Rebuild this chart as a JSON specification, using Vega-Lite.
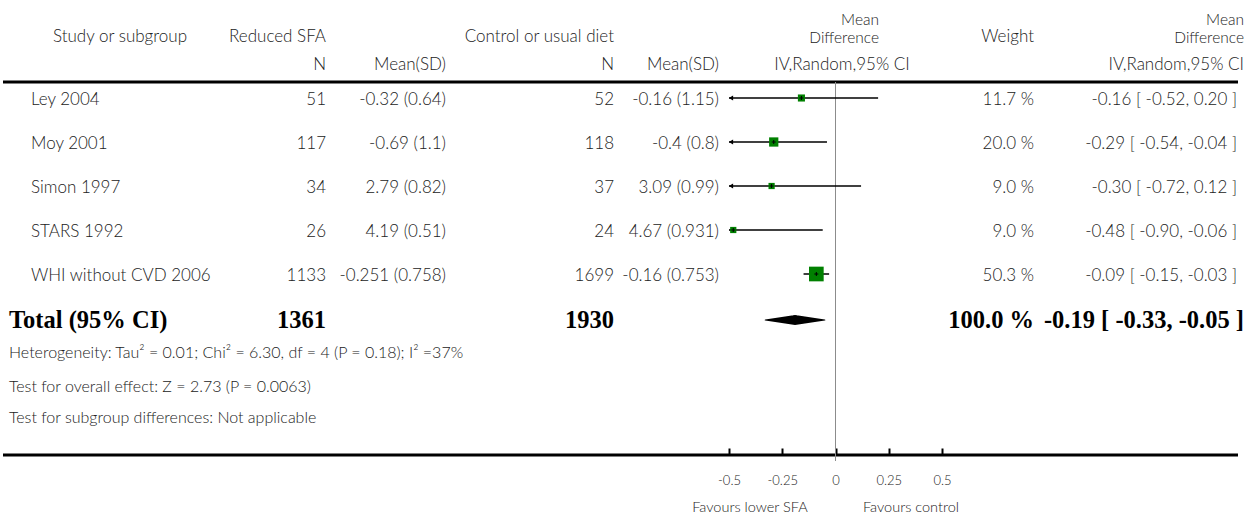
{
"$schema":"https://vega.github.io/schema/vega-lite/v6.json",
"width":1235,"height":455,
"autosize":"none",
"padding":{"left":3,"top":0,"right":22,"bottom":66},
"background":"white",
"config":{"view":{"stroke":null},"text":{"font":"Lato","fontSize":17,"fontWeight":300,"color":"#222"},
"axisX":{"domain":false,"grid":false,"ticks":true,"tickSize":-7,"tickWidth":2,"tickColor":"black","labelFont":"Lato","labelFontSize":13,"labelFontWeight":300,"labelColor":"#222","labelPadding":26,"labelFlush":false,"labelOverlap":false}},
"datasets":{
"studies":[
{"row":4,"study":"Ley 2004","n1":"51","m1":"-0.32 (0.64)","n2":"52","m2":"-0.16 (1.15)","w":11.7,"wt":"11.7 %","ci":"-0.16 [ -0.52, 0.20 ]","md":-0.16,"lo":-0.52,"hi":0.20},
{"row":5,"study":"Moy 2001","n1":"117","m1":"-0.69 (1.1)","n2":"118","m2":"-0.4 (0.8)","w":20.0,"wt":"20.0 %","ci":"-0.29 [ -0.54, -0.04 ]","md":-0.29,"lo":-0.54,"hi":-0.04},
{"row":6,"study":"Simon 1997","n1":"34","m1":"2.79 (0.82)","n2":"37","m2":"3.09 (0.99)","w":9.0,"wt":"9.0 %","ci":"-0.30 [ -0.72, 0.12 ]","md":-0.30,"lo":-0.72,"hi":0.12},
{"row":7,"study":"STARS 1992","n1":"26","m1":"4.19 (0.51)","n2":"24","m2":"4.67 (0.931)","w":9.0,"wt":"9.0 %","ci":"-0.48 [ -0.90, -0.06 ]","md":-0.48,"lo":-0.90,"hi":-0.06},
{"row":8,"study":"WHI without CVD 2006","n1":"1133","m1":"-0.251 (0.758)","n2":"1699","m2":"-0.16 (0.753)","w":50.3,"wt":"50.3 %","ci":"-0.09 [ -0.15, -0.03 ]","md":-0.09,"lo":-0.15,"hi":-0.03}
],
"total":[{"row":9,"label":"Total (95% CI)","n1":"1361","n2":"1930","wt":"100.0 %","ci":"-0.19 [ -0.33, -0.05 ]"}],
"diamond":[{"row":9,"x":-0.33,"h":0},{"row":9,"x":-0.19,"h":1},{"row":9,"x":-0.05,"h":0}],
"hlines":[{"row":3},{"row":13}],
"zero":[{"v":0,"row":3,"row2":14}],
"foot":[
{"row":10,"t":"Heterogeneity: Tau² = 0.01; Chi² = 6.30, df = 4 (P = 0.18); I² =37%"},
{"row":11,"t":"Test for overall effect: Z = 2.73 (P = 0.0063)"},
{"row":12,"t":"Test for subgroup differences: Not applicable"}
],
"hdrR":[
{"t":"Reduced SFA","row":1,"c":3},
{"t":"Control or usual diet","row":1,"c":5},
{"t":"Weight","row":1,"c":12},
{"t":"N","row":2,"c":3},
{"t":"Mean(SD)","row":2,"c":4},
{"t":"N","row":2,"c":6},
{"t":"Mean(SD)","row":2,"c":7},
{"t":"IV,Random,95% CI","row":2,"c":14}
],
"hdrMD":[
{"t":"Mean\nDifference","row":1,"c":10},
{"t":"Mean\nDifference","row":1,"c":14}
],
"hdrC":[
{"t":"Study or subgroup","row":1,"c":2},
{"t":"IV,Random,95% CI","row":2,"c":9}
],
"fav":[
{"t":"Favours lower SFA","row":15,"c":8},
{"t":"Favours control","row":15,"c":11}
]
},
"encoding":{"y":{"field":"row","type":"quantitative","scale":{"domain":[0,1,2,3,4,5,6,7,8,9,10,11,12,13,14,15],"range":[19,37,65,82,98,142,186,230,274,320,353,387,418,455,461,508],"zero":false,"nice":false},"axis":null}},
"resolve":{"scale":{"x":"independent"}},
"layer":[
{"layer":[
{"data":{"name":"hlines"},"mark":{"type":"rule","strokeWidth":3,"color":"black"},"encoding":{"y":{"field":"row","type":"quantitative"}}},
{"data":{"name":"hdrR"},"mark":{"type":"text","align":"right"},"encoding":{"x":{"field":"c","type":"quantitative","scale":{"domain":[0,1,2,3,4,5,6,7,8,9,10,11,12,13,14],"range":[6,28,117,323,443,611,611,716,747,839,876,908,1031,1234,1241],"zero":false,"nice":false},"axis":null},"text":{"field":"t"}}},
{"data":{"name":"hdrMD"},"mark":{"type":"text","align":"right","baseline":"middle","lineBreak":"\n","lineHeight":17.5,"fontSize":15.5,"dy":-17},"encoding":{"x":{"field":"c","type":"quantitative","scale":{"domain":[0,1,2,3,4,5,6,7,8,9,10,11,12,13,14],"range":[6,28,117,323,443,611,611,716,747,839,876,908,1031,1234,1241],"zero":false,"nice":false},"axis":null},"text":{"field":"t"}}},
{"data":{"name":"hdrC"},"mark":{"type":"text","align":"center"},"encoding":{"x":{"field":"c","type":"quantitative","scale":{"domain":[0,1,2,3,4,5,6,7,8,9,10,11,12,13,14],"range":[6,28,117,323,443,611,611,716,747,839,876,908,1031,1234,1241],"zero":false,"nice":false},"axis":null},"text":{"field":"t"}}},
{"data":{"name":"fav"},"mark":{"type":"text","align":"center","fontSize":14.5},"encoding":{"x":{"field":"c","type":"quantitative","scale":{"domain":[0,1,2,3,4,5,6,7,8,9,10,11,12,13,14],"range":[6,28,117,323,443,611,611,716,747,839,876,908,1031,1234,1241],"zero":false,"nice":false},"axis":null},"text":{"field":"t"}}},
{"data":{"name":"studies"},"mark":{"type":"text","align":"left","dy":2},"encoding":{"x":{"datum":1,"type":"quantitative","scale":{"domain":[0,1,2,3,4,5,6,7,8,9,10,11,12,13,14],"range":[6,28,117,323,443,611,611,716,747,839,876,908,1031,1234,1241],"zero":false,"nice":false},"axis":null},"text":{"field":"study"}}},
{"data":{"name":"studies"},"mark":{"type":"text","align":"right","dy":2},"encoding":{"x":{"datum":3,"type":"quantitative","scale":{"domain":[0,1,2,3,4,5,6,7,8,9,10,11,12,13,14],"range":[6,28,117,323,443,611,611,716,747,839,876,908,1031,1234,1241],"zero":false,"nice":false},"axis":null},"text":{"field":"n1"}}},
{"data":{"name":"studies"},"mark":{"type":"text","align":"right","dy":2},"encoding":{"x":{"datum":4,"type":"quantitative","scale":{"domain":[0,1,2,3,4,5,6,7,8,9,10,11,12,13,14],"range":[6,28,117,323,443,611,611,716,747,839,876,908,1031,1234,1241],"zero":false,"nice":false},"axis":null},"text":{"field":"m1"}}},
{"data":{"name":"studies"},"mark":{"type":"text","align":"right","dy":2},"encoding":{"x":{"datum":6,"type":"quantitative","scale":{"domain":[0,1,2,3,4,5,6,7,8,9,10,11,12,13,14],"range":[6,28,117,323,443,611,611,716,747,839,876,908,1031,1234,1241],"zero":false,"nice":false},"axis":null},"text":{"field":"n2"}}},
{"data":{"name":"studies"},"mark":{"type":"text","align":"right","dy":2},"encoding":{"x":{"datum":7,"type":"quantitative","scale":{"domain":[0,1,2,3,4,5,6,7,8,9,10,11,12,13,14],"range":[6,28,117,323,443,611,611,716,747,839,876,908,1031,1234,1241],"zero":false,"nice":false},"axis":null},"text":{"field":"m2"}}},
{"data":{"name":"studies"},"mark":{"type":"text","align":"right","dy":2},"encoding":{"x":{"datum":12,"type":"quantitative","scale":{"domain":[0,1,2,3,4,5,6,7,8,9,10,11,12,13,14],"range":[6,28,117,323,443,611,611,716,747,839,876,908,1031,1234,1241],"zero":false,"nice":false},"axis":null},"text":{"field":"wt"}}},
{"data":{"name":"studies"},"mark":{"type":"text","align":"right","dy":2},"encoding":{"x":{"datum":13,"type":"quantitative","scale":{"domain":[0,1,2,3,4,5,6,7,8,9,10,11,12,13,14],"range":[6,28,117,323,443,611,611,716,747,839,876,908,1031,1234,1241],"zero":false,"nice":false},"axis":null},"text":{"field":"ci"}}},
{"data":{"name":"total"},"mark":{"type":"text","align":"left","dy":1,"font":"Liberation Serif","fontWeight":"bold","fontSize":24.5,"color":"black"},"encoding":{"x":{"datum":0,"type":"quantitative","scale":{"domain":[0,1,2,3,4,5,6,7,8,9,10,11,12,13,14],"range":[6,28,117,323,443,611,611,716,747,839,876,908,1031,1234,1241],"zero":false,"nice":false},"axis":null},"text":{"field":"label"}}},
{"data":{"name":"total"},"mark":{"type":"text","align":"right","dy":1,"font":"Liberation Serif","fontWeight":"bold","fontSize":24.5,"color":"black"},"encoding":{"x":{"datum":3,"type":"quantitative","scale":{"domain":[0,1,2,3,4,5,6,7,8,9,10,11,12,13,14],"range":[6,28,117,323,443,611,611,716,747,839,876,908,1031,1234,1241],"zero":false,"nice":false},"axis":null},"text":{"field":"n1"}}},
{"data":{"name":"total"},"mark":{"type":"text","align":"right","dy":1,"font":"Liberation Serif","fontWeight":"bold","fontSize":24.5,"color":"black"},"encoding":{"x":{"datum":6,"type":"quantitative","scale":{"domain":[0,1,2,3,4,5,6,7,8,9,10,11,12,13,14],"range":[6,28,117,323,443,611,611,716,747,839,876,908,1031,1234,1241],"zero":false,"nice":false},"axis":null},"text":{"field":"n2"}}},
{"data":{"name":"total"},"mark":{"type":"text","align":"right","dy":1,"font":"Liberation Serif","fontWeight":"bold","fontSize":24.5,"color":"black"},"encoding":{"x":{"datum":12,"type":"quantitative","scale":{"domain":[0,1,2,3,4,5,6,7,8,9,10,11,12,13,14],"range":[6,28,117,323,443,611,611,716,747,839,876,908,1031,1234,1241],"zero":false,"nice":false},"axis":null},"text":{"field":"wt"}}},
{"data":{"name":"total"},"mark":{"type":"text","align":"right","dy":1,"font":"Liberation Serif","fontWeight":"bold","fontSize":24.5,"color":"black"},"encoding":{"x":{"datum":14,"type":"quantitative","scale":{"domain":[0,1,2,3,4,5,6,7,8,9,10,11,12,13,14],"range":[6,28,117,323,443,611,611,716,747,839,876,908,1031,1234,1241],"zero":false,"nice":false},"axis":null},"text":{"field":"ci"}}},
{"data":{"name":"foot"},"mark":{"type":"text","align":"left","fontSize":16},"encoding":{"x":{"datum":0,"type":"quantitative","scale":{"domain":[0,1,2,3,4,5,6,7,8,9,10,11,12,13,14],"range":[6,28,117,323,443,611,611,716,747,839,876,908,1031,1234,1241],"zero":false,"nice":false},"axis":null},"text":{"field":"t"}}}
]},
{"resolve":{"scale":{"size":"independent"}},"layer":[
{"data":{"name":"zero"},"mark":{"type":"rule","color":"#8c8c8c","strokeWidth":1},"encoding":{"x":{"field":"v","type":"quantitative","scale":{"domain":[-0.5,0.5],"range":[726,939],"clamp":true,"zero":false,"nice":false},"title":null},"y":{"field":"row","type":"quantitative"},"y2":{"field":"row2"}}},
{"data":{"name":"studies"},"mark":{"type":"rule","color":"black","strokeWidth":1.5},"encoding":{"x":{"field":"lo","type":"quantitative","scale":{"domain":[-0.5,0.5],"range":[726,939],"clamp":true,"zero":false,"nice":false},"title":null,"axis":{"orient":"bottom","values":[-0.5,-0.25,0,0.25,0.5],"format":"~g","labelExpr":"replace(datum.label,'−','-')"}},"x2":{"field":"hi"}}},
{"data":{"name":"studies"},"transform":[{"filter":"datum.lo < -0.5"}],"mark":{"type":"point","shape":"triangle-left","filled":true,"color":"black","opacity":1,"size":24,"xOffset":2},"encoding":{"x":{"field":"lo","type":"quantitative","title":null}}},
{"data":{"name":"studies"},"mark":{"type":"point","shape":"square","filled":true,"color":"#008000","opacity":1},"encoding":{"x":{"field":"md","type":"quantitative","title":null},"size":{"field":"w","type":"quantitative","scale":{"domain":[0,50.3],"range":[0,216],"zero":true},"legend":null}}},
{"data":{"name":"studies"},"mark":{"type":"point","shape":"M-1,0L1,0M0,-1L0,1","filled":false,"stroke":"black","strokeWidth":1,"opacity":1,"size":16},"encoding":{"x":{"field":"md","type":"quantitative","title":null}}},
{"data":{"name":"diamond"},"mark":{"type":"trail","color":"black"},"encoding":{"x":{"field":"x","type":"quantitative","title":null},"size":{"field":"h","type":"quantitative","scale":{"domain":[0,1],"range":[0,10]},"legend":null}}}
]}
]
}
